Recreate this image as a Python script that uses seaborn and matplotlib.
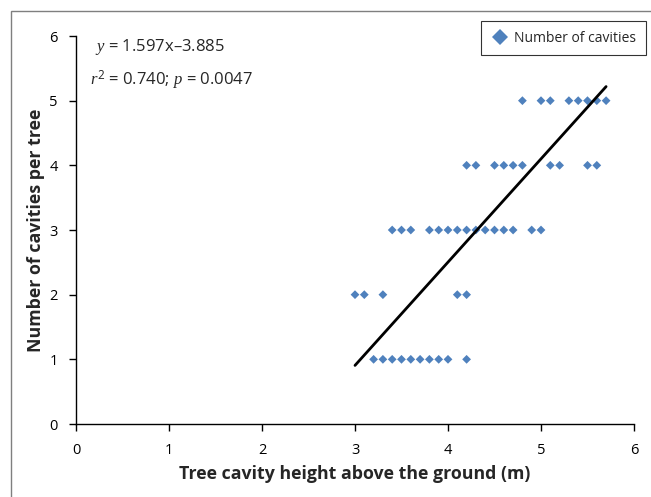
import numpy as np
import pandas as pd
import matplotlib
matplotlib.use("Agg")
import matplotlib.pyplot as plt
import matplotlib.patches as mpatches
import seaborn as sns

# cavity height (m) for each tree, grouped by number of cavities
heights_1 = [3.2, 3.3, 3.4, 3.5, 3.6, 3.7, 3.8, 3.9, 4.0, 4.2]
heights_2 = [3.0, 3.1, 3.3, 4.1, 4.2]
heights_3 = [3.4, 3.5, 3.6, 3.8, 3.9, 4.0, 4.1, 4.2, 4.3, 4.4, 4.5, 4.6, 4.7, 4.9, 5.0]
heights_4 = [4.2, 4.3, 4.5, 4.6, 4.7, 4.8, 5.1, 5.2, 5.5, 5.6]
heights_5 = [4.8, 5.0, 5.1, 5.3, 5.4, 5.5, 5.6, 5.7]
counts = [1, 2, 3, 4, 5]

# fitted line y = 1.597x - 3.885 over the observed range
slope = 1.597
intercept = -3.885
fit_x = [3.0, 5.7]

x_ticks = [0, 1, 2, 3, 4, 5, 6]
y_ticks = [0, 1, 2, 3, 4, 5, 6]

groups = [heights_1, heights_2, heights_3, heights_4, heights_5]
df = pd.DataFrame({
    "height": [h for g in groups for h in g],
    "cavities": [c for c, g in zip(counts, groups) for _ in g],
})

sns.set_style("ticks")
plt.rcParams["font.family"] = ["Open Sans", "DejaVu Sans"]
plt.rcParams["mathtext.fontset"] = "custom"
plt.rcParams["mathtext.it"] = "Liberation Serif:italic"
plt.rcParams["mathtext.rm"] = "Open Sans"

fig = plt.figure(figsize=(6.51, 4.97), dpi=100)
ax = fig.add_axes([76 / 651, 1 - 424 / 497, (634 - 76) / 651, (424 - 36) / 497])

sns.scatterplot(data=df, x="height", y="cavities", marker="D", s=20,
                color="#4F81BD", edgecolor="none", label="Number of cavities",
                ax=ax, legend=False)

fx = np.array(fit_x)
ax.plot(fx, slope * fx + intercept, color="black", lw=2)

ax.set_xlim(0, 6)
ax.set_ylim(0, 6)
ax.set_xticks(x_ticks)
ax.set_yticks(y_ticks)
ax.tick_params(axis="both", labelsize=10.5, length=5, width=1, color="black",
               labelcolor="black")
ax.tick_params(axis="x", pad=9)
ax.tick_params(axis="y", pad=8)
sns.despine(ax=ax)
for sp in ["left", "bottom"]:
    ax.spines[sp].set_linewidth(1)
    ax.spines[sp].set_color("black")

ax.set_xlabel("Tree cavity height above the ground (m)", fontsize=12.8,
              fontweight="bold", labelpad=5)
ax.set_ylabel("Number of cavities per tree", fontsize=12.8,
              fontweight="bold", labelpad=3)

ax.text(95 / 651, 1 - 47 / 497, r"$y$ = 1.597x–3.885", transform=fig.transFigure,
        fontsize=12, va="center", ha="left")
ax.text(90 / 651, 1 - 80 / 497, r"$r^{\mathrm{2}}$ = 0.740; $p$ = 0.0047",
        transform=fig.transFigure, fontsize=12, va="center", ha="left")

handle = plt.Line2D([], [], marker="D", ls="none", color="#4F81BD",
                    markersize=8, markeredgewidth=0)
leg = fig.legend([handle], ["Number of cavities"], loc="upper right",
                 bbox_to_anchor=(646 / 651, 1 - 21 / 497), fontsize=10,
                 frameon=True, fancybox=False, edgecolor="black",
                 handletextpad=0.4, borderpad=0.7, handlelength=1.3,
                 borderaxespad=0)
leg.get_frame().set_linewidth(0.8)

border = mpatches.Rectangle((11 / 651, -0.1), 1.2, 1.1 - 11 / 497,
                            transform=fig.transFigure, fill=False,
                            edgecolor="#7f7f7f", lw=1)
fig.patches.append(border)

fig.savefig("out.png", dpi=100)
